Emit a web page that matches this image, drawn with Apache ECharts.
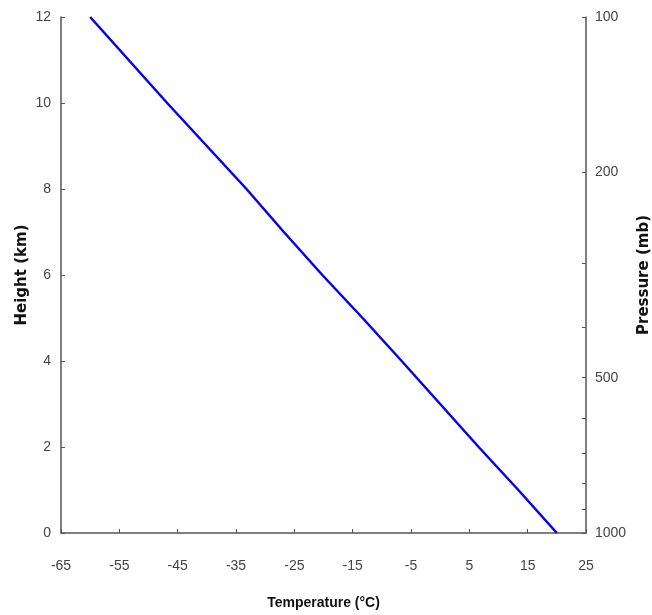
<!DOCTYPE html>
<html>
<head>
<meta charset="utf-8">
<script src="https://cdn.jsdelivr.net/npm/echarts@6/dist/echarts.min.js"></script>
<style>
  html, body { margin: 0; padding: 0; background: #fff; }
  #chart { width: 652px; height: 615px; }
</style>
</head>
<body>
<div id="chart"></div>
<script>
// temperature profile
const heights = [0, 1, 2, 3, 4, 5, 6, 7, 8, 9, 10, 11, 12]
const temps = [20, 13.4, 6.6, 0, -6.6, -13.3, -20.2, -26.8, -33.2, -40, -46.8, -53.4, -60]

const tempTicks = [-65, -55, -45, -35, -25, -15, -5, 5, 15, 25]
const pressureTicks = [100, 200, 300, 400, 500, 600, 700, 800, 900, 1000]
const pressureLabels = [100, 200, 500, 1000]

// pressure axis is logarithmic: 1000 mb at 0 km, 100 mb at 12 km
const toHeight = p => 12 * Math.log10(1000 / p)
const toPressure = h => Math.round(1000 / Math.pow(10, h / 12))

const chart = echarts.init(document.getElementById('chart'), null, { renderer: 'canvas' })

const axisColor = '#555'
const labelStyle = {
  color: '#444',
  fontFamily: '"Liberation Sans Narrow", "Arial Narrow", sans-serif',
  fontSize: 14
}
const nameStyle = {
  color: '#111',
  fontFamily: '"DejaVu Sans", sans-serif',
  fontWeight: 'bold',
  fontSize: 15
}

const option = {
  animation: false,
  backgroundColor: '#fff',
  grid: { left: 61, top: 17, right: 66, bottom: 82, containLabel: false, outerBoundsMode: 'none' },
  xAxis: {
    type: 'value',
    min: -65,
    max: 25,
    name: 'Temperature (°C)',
    nameLocation: 'middle',
    nameGap: 63,
    nameTextStyle: {
      color: '#111',
      fontFamily: '"Liberation Sans Narrow", "Arial Narrow", "Liberation Sans", sans-serif',
      fontWeight: 'bold',
      fontSize: 14
    },
    axisLine: { onZero: false, lineStyle: { color: axisColor, width: 1.5 } },
    axisTick: { inside: true, length: 4, customValues: tempTicks, lineStyle: { color: axisColor } },
    axisLabel: Object.assign({ customValues: tempTicks, margin: 26 }, labelStyle),
    splitLine: { show: false }
  },
  yAxis: [
    {
      type: 'value',
      min: 0,
      max: 12,
      interval: 2,
      name: 'Height (km)',
      nameLocation: 'middle',
      nameRotate: 90,
      nameGap: 31,
      nameMoveOverlap: false,
      nameTextStyle: nameStyle,
      axisLine: { show: true, onZero: false, lineStyle: { color: axisColor, width: 1.5 } },
      axisTick: { show: true, inside: true, length: 4, lineStyle: { color: axisColor } },
      axisLabel: Object.assign({ margin: 10 }, labelStyle),
      splitLine: { show: false }
    },
    {
      type: 'value',
      position: 'right',
      min: 0,
      max: 12,
      name: 'Pressure (mb)',
      nameLocation: 'middle',
      nameRotate: 90,
      nameGap: 50,
      nameTextStyle: nameStyle,
      axisLine: { show: true, onZero: false, lineStyle: { color: axisColor, width: 1.5 } },
      axisTick: {
        show: true, inside: true, length: 4,
        customValues: pressureTicks.map(toHeight),
        lineStyle: { color: axisColor }
      },
      axisLabel: Object.assign({
        margin: 9,
        customValues: pressureLabels.map(toHeight),
        formatter: v => String(toPressure(v))
      }, labelStyle),
      splitLine: { show: false }
    }
  ],
  series: [
    {
      type: 'line',
      data: temps.map((t, i) => [t, heights[i]]),
      showSymbol: false,
      lineStyle: { color: '#0000ff', width: 2.5 }
    }
  ]
}

chart.setOption(option)
</script>
</body>
</html>
